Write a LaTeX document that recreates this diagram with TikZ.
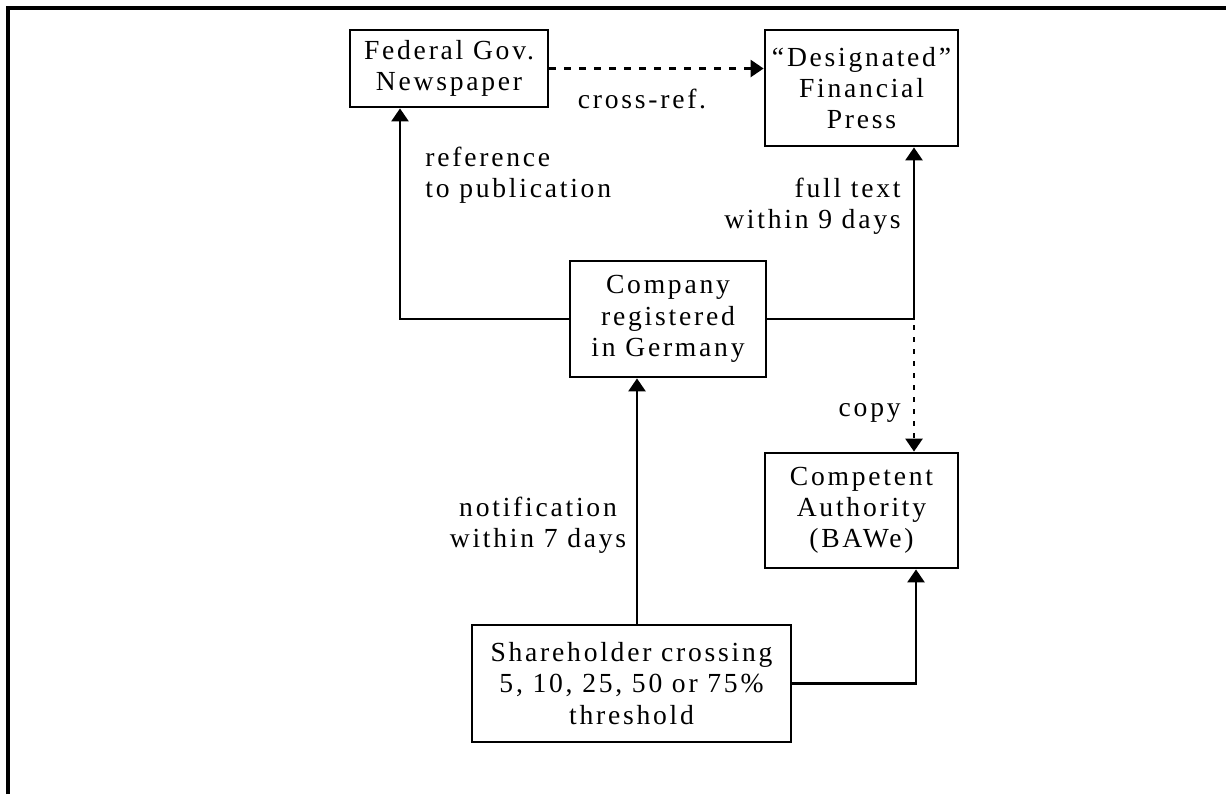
\documentclass[tikz,border=0pt]{standalone}
\usepackage{fontspec}
\setmainfont{Liberation Serif}[LetterSpace=10]
\usepackage{tikz}
\usetikzlibrary{arrows.meta,calc,positioning}
\tikzset{>={Triangle[width=8.5pt,length=6.5pt]}}
\tikzset{box/.style={draw, line width=1.4pt, align=center, inner sep=0pt},
         conn/.style={line width=1.3pt},
         lbl/.style={inner sep=0pt}}

\begin{document}
\begin{tikzpicture}[x=0.5pt, y=-0.5pt, font=\fontsize{13.8}{15.6}\selectfont]
\useasboundingbox (0,0) rectangle (1226,794);
\draw[line width=2pt] (8,794) -- (8,8) -- (1226,8);
% boxes
\node[box, minimum width=99pt, minimum height=38.5pt] (fed) at (449,68.5) {Federal Gov.\\Newspaper};
\node[box, minimum width=96.5pt, minimum height=58pt] (press) at (861.5,88) {“Designated”\\Financial\\Press};
\node[box, minimum width=98pt, minimum height=58pt] (comp) at (668,319) {Company\\registered\\in Germany};
\node[box, minimum width=96.5pt, minimum height=57.5pt] (bawe) at (861.5,510.5) {Competent\\Authority\\(BAWe)};
\node[box, minimum width=159.5pt, minimum height=58.5pt] (share) at (631.5,683.5) {Shareholder crossing\\5, 10, 25, 50 or 75\%\\threshold};
% corners
\coordinate (jl) at (400,319);
\coordinate (jr) at (914,319);
\coordinate (jb) at (916,683.5);
\coordinate (sn) at (637,625);
% connectors
\draw[->, conn, dashed, dash pattern=on 3.5pt off 4pt] (fed.east) -- (fed.east -| press.west);
\draw[->, conn] (comp.west) -- (jl) -- (jl |- fed.south);
\draw[->, conn] (comp.east) -- (jr) -- (jr |- press.south);
\draw[->, conn, dash pattern=on 2.5pt off 3.5pt] ($(jr)+(0,6)$) -- (jr |- bawe.north);
\draw[->, conn] (sn) -- (sn |- comp.south);
\draw[->, conn] (share.east) -- (jb) -- (jb |- bawe.south);
% labels
\node[lbl] (xref) at (642,99) {cross-ref.};
\node[lbl, anchor=west, align=left] (refpub) at (425,175) {reference\\to publication};
\node[lbl, anchor=east, align=right] (fulltxt) at (901,206) {full text\\within 9 days};
\node[lbl, anchor=east] (copy) at (901,413) {copy};
\node[lbl, align=center] (notif) at (538,525) {notification\\within 7 days};
\end{tikzpicture}
\end{document}
